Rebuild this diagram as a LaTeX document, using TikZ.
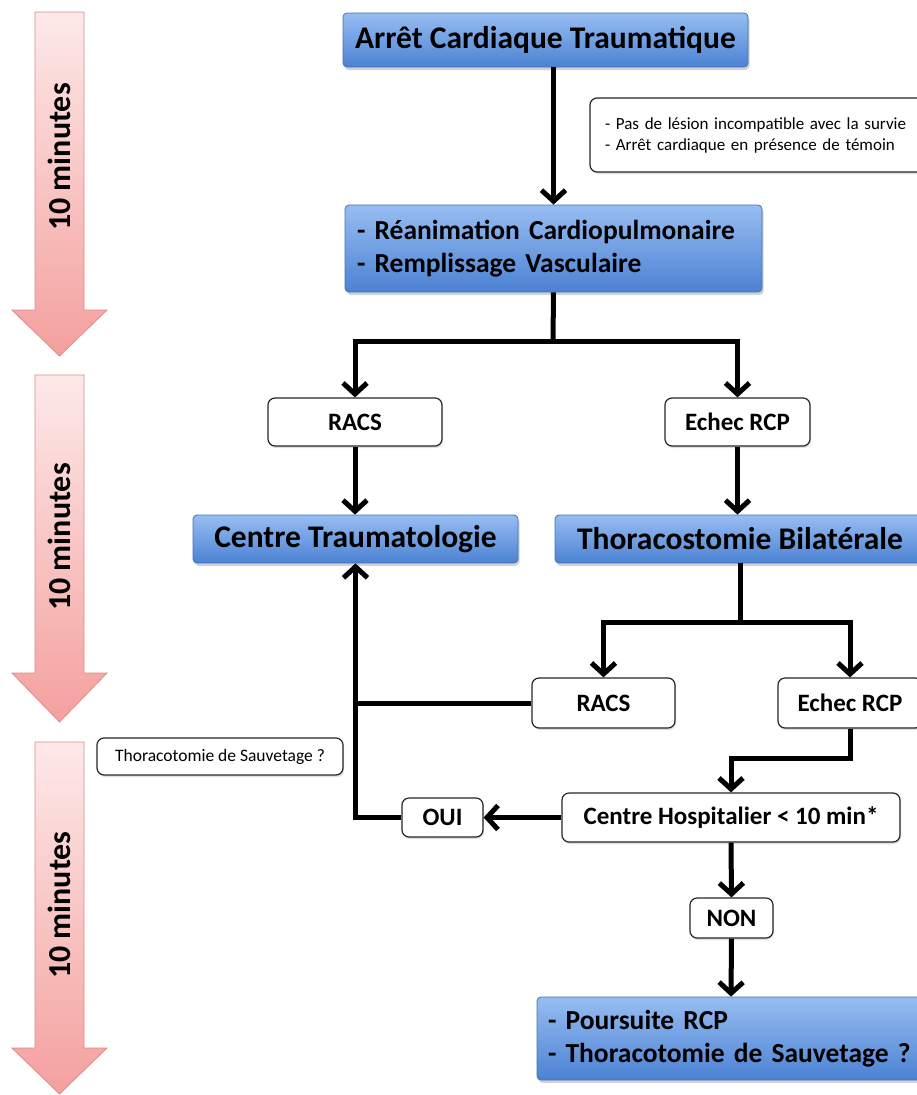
\documentclass[tikz,border=0pt]{standalone}
\usepackage{fontspec}
\setmainfont{Carlito}
\usetikzlibrary{arrows.meta,shadows}

\begin{document}
\begin{tikzpicture}[x=1pt,y=-1pt,
  bluebox/.style={draw=boxline, line width=0.8pt, rounded corners=4pt,
    top color=boxtop, bottom color=boxbot,
    drop shadow={opacity=0.35,shadow xshift=1.5pt,shadow yshift=-3pt},
    inner sep=0pt, font=\fontsize{31.5}{36}\selectfont\bfseries},
  listbox/.style={bluebox, align=left, font=\fontsize{27.5}{33}\selectfont\bfseries},
  whitebox/.style={draw=black!85, line width=1.2pt, rounded corners=7pt, fill=white,
    drop shadow={opacity=0.25,shadow xshift=1pt,shadow yshift=-2pt},
    inner sep=0pt, font=\fontsize{25}{30}\selectfont\bfseries},
  notebox/.style={whitebox, font=\fontsize{17}{21}\selectfont},
  link/.style={line width=5pt},
  arr/.style={link, -{Straight Barb[length=11pt,width=24pt]}},
  timearrow/.style={draw=timeline, line width=0.8pt, top color=timetop, bottom color=timebot},
  timetext/.style={rotate=90, font=\fontsize{32}{36}\selectfont\bfseries}]
\definecolor{boxtop}{HTML}{97BDF2}
\definecolor{boxbot}{HTML}{4C82D3}
\definecolor{boxline}{HTML}{4272BC}
\definecolor{timetop}{HTML}{FDE9E9}
\definecolor{timebot}{HTML}{F4A09E}
\definecolor{timeline}{HTML}{E08A88}
\useasboundingbox (0,0) rectangle (917,1095);

% time scale
\draw[timearrow] (35,12) -- (84,12) -- (84,310) -- (107,310) -- (59.5,356) -- (12,310) -- (35,310) -- cycle;
\node[timetext] (t1) at (59.5,157) {10 minutes};
\draw[timearrow] (35,375) -- (84,375) -- (84,673) -- (107,673) -- (59.5,722) -- (12,673) -- (35,673) -- cycle;
\node[timetext] (t2) at (59.5,537) {10 minutes};
\draw[timearrow] (35,742) -- (84,742) -- (84,1048) -- (107,1048) -- (59.5,1094) -- (12,1048) -- (35,1048) -- cycle;
\node[timetext] (t3) at (59.5,905) {10 minutes};

% boxes
\node[bluebox, minimum width=405pt, minimum height=54pt] (act) at (545.5,40) {Arrêt Cardiaque Traumatique};
\node[notebox, text width=305pt, inner xsep=15pt, minimum height=74pt, align=left] (crit) at (757.5,135)
  {- Pas de lésion incompatible avec la survie\\- Arrêt cardiaque en présence de témoin};
\node[listbox, text width=393pt, inner xsep=12pt, minimum height=87pt] (rcp) at (553.5,248.5)
  {- Réanimation Cardiopulmonaire\\- Remplissage Vasculaire};
\node[whitebox, minimum width=174pt, minimum height=48pt] (racsA) at (355,422) {RACS};
\node[whitebox, minimum width=145pt, minimum height=48pt] (echecA) at (737.5,422) {Echec RCP};
\node[bluebox, minimum width=325pt, minimum height=48pt] (trauma) at (355.5,539) {Centre Traumatologie};
\node[bluebox, minimum width=370pt, minimum height=48pt] (thoraco) at (740,539) {Thoracostomie Bilatérale};
\node[whitebox, minimum width=143pt, minimum height=50pt] (racsB) at (603.5,703) {RACS};
\node[whitebox, minimum width=144pt, minimum height=50pt] (echecB) at (850,703) {Echec RCP};
\node[notebox, minimum width=246pt, minimum height=37pt, font=\fontsize{17.5}{21}\selectfont] (sauv) at (220,756.5) {Thoracotomie de Sauvetage ?};
\node[whitebox, minimum width=338pt, minimum height=49pt] (hosp) at (731,817.5) {Centre Hospitalier < 10 min*};
\node[whitebox, minimum width=81pt, minimum height=39pt] (oui) at (442.5,817.5) {OUI};
\node[whitebox, minimum width=83pt, minimum height=40pt] (non) at (731.5,918) {NON};
\node[listbox, text width=366pt, inner xsep=11pt, minimum height=83pt] (suite) at (731,1038.5)
  {- Poursuite RCP\\- Thoracotomie de Sauvetage ?};

% links
\coordinate (splitA) at (553,341);
\coordinate (splitB) at (740,622);
\coordinate (elbow) at (731,758);
\draw[arr] (act.south -| rcp.north) -- (rcp.north);
\draw[link] (rcp.south) -- (splitA);
\draw[arr] (splitA) -| (racsA.north);
\draw[arr] (splitA) -| (echecA.north);
\draw[arr] (racsA.south) -- (racsA.south |- trauma.north);
\draw[arr] (echecA.south) -- (echecA.south |- thoraco.north);
\draw[link] (thoraco.south) -- (splitB);
\draw[arr] (splitB) -| (racsB.north);
\draw[arr] (splitB) -| (echecB.north);
\draw[link] (racsB.west) -- (racsB.west -| trauma.south);
\draw[arr] (oui.west) -| (trauma.south);
\draw[arr] (hosp.west) -- (oui.east);
\draw[arr] (echecB.south) |- (elbow) -- (hosp.north);
\draw[arr] (hosp.south) -- (non.north);
\draw[arr] (non.south) -- (suite.north);
\end{tikzpicture}
\end{document}
